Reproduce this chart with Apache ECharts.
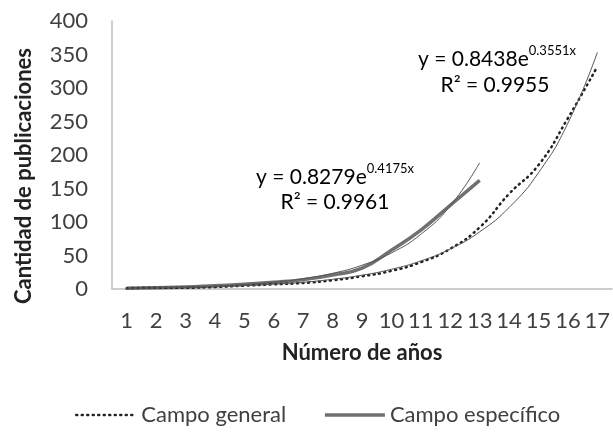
<!DOCTYPE html>
<html><head><meta charset="utf-8">
<script src="https://cdn.jsdelivr.net/npm/echarts@6/dist/echarts.min.js"></script>
<style>html,body{margin:0;padding:0;background:#fff}#c{width:613px;height:435px}</style>
</head><body><div id="c"></div>
<script>
var years = ['1','2','3','4','5','6','7','8','9','10','11','12','13','14','15','16','17'];
var yTicks = [0,50,100,150,200,250,300,350,400];
var campoGeneral = [1,2,2,3,5,7,9,13,19,27,40,60,92,142,185,255,332];
var campoEspecifico = [1,2,3,5,7,10,14,21,31,58,88,125,162];
var trendGeneral = [1.2,1.7,2.5,3.5,5.0,7.1,10.1,14.5,20.6,29.4,41.9,59.8,85.3,121.7,173.6,247.6,353];
var trendEspecifico = [1.3,1.9,2.9,4.4,6.7,10.1,15.4,23.4,35.5,53.8,81.7,124.1,188.4];
var eqGeneral = ['y = 0.8438e','0.3551x','R² = 0.9955'];
var eqEspecifico = ['y = 0.8279e','0.4175x','R² = 0.9961'];

var FONT = 'Lato, "Open Sans", sans-serif';
var chart = echarts.init(document.getElementById('c'));
function eqRich(){
  return {
    a:{fontSize:21,fontFamily:FONT,color:'#404040',lineHeight:26,verticalAlign:'bottom'},
    s:{fontSize:13,fontFamily:FONT,color:'#404040',lineHeight:26,verticalAlign:'top'},
    b:{fontSize:21,fontFamily:FONT,color:'#404040',lineHeight:26}
  };
}
chart.setOption({
  animation:false,
  textStyle:{fontFamily:FONT},
  grid:{left:112,right:-2,top:21,bottom:146,containLabel:false},
  legend:{
    data:[
      {name:'Campo general',lineStyle:{color:'#222',width:2.5,type:[1,4.5],cap:'round'}},
      {name:'Campo específico',lineStyle:{color:'#707070',width:3.5,type:'solid'}}
    ],
    top:399,left:70,itemWidth:60,itemHeight:10,itemGap:37,
    itemStyle:{opacity:0},
    textStyle:{fontSize:22,color:'#404040',fontFamily:FONT}
  },
  xAxis:{
    type:'category',data:years,boundaryGap:true,
    name:'Número de años',nameLocation:'middle',nameGap:53,
    nameTextStyle:{fontSize:22,fontWeight:'bold',color:'#222',fontFamily:FONT},
    axisLine:{lineStyle:{color:'#bfbfbf',width:1.5}},
    axisTick:{show:false},
    axisLabel:{fontSize:22,color:'#404040',margin:21,interval:0,fontFamily:FONT}
  },
  yAxis:{
    type:'value',min:yTicks[0],max:yTicks[yTicks.length-1],interval:50,
    name:'Cantidad de publicaciones',nameLocation:'middle',nameGap:77,
    nameTextStyle:{fontSize:22,fontWeight:'bold',color:'#222',fontFamily:FONT,padding:[0,42,0,0]},
    axisLine:{show:true,lineStyle:{color:'#bfbfbf',width:1.5}},
    axisTick:{show:false},splitLine:{show:false},
    axisLabel:{fontSize:22,color:'#404040',margin:24,fontFamily:FONT}
  },
  series:[
    {name:'Campo general',type:'line',data:campoGeneral,smooth:true,symbol:'none',
     lineStyle:{color:'#222',width:2.5,type:[1,4.5],cap:'round'},itemStyle:{color:'#222'},z:3},
    {name:'Campo específico',type:'line',data:campoEspecifico,smooth:true,symbol:'none',
     lineStyle:{color:'#707070',width:3.5},itemStyle:{color:'#707070'},z:2},
    {name:'trendGeneral',type:'line',data:trendGeneral,smooth:true,symbol:'none',
     lineStyle:{color:'#555',width:1},z:4},
    {name:'trendEspecifico',type:'line',data:trendEspecifico,smooth:true,symbol:'none',
     lineStyle:{color:'#555',width:1},z:4}
  ],
  graphic:[
    {type:'text',x:497,y:57,style:{text:'{a|'+eqGeneral[0]+'}{s|'+eqGeneral[1]+'}',rich:eqRich(),align:'center',verticalAlign:'middle'}},
    {type:'text',x:495,y:85,style:{text:'{b|'+eqGeneral[2]+'}',rich:eqRich(),align:'center',verticalAlign:'middle'}},
    {type:'text',x:335,y:175,style:{text:'{a|'+eqEspecifico[0]+'}{s|'+eqEspecifico[1]+'}',rich:eqRich(),align:'center',verticalAlign:'middle'}},
    {type:'text',x:335,y:202,style:{text:'{b|'+eqEspecifico[2]+'}',rich:eqRich(),align:'center',verticalAlign:'middle'}}
  ]
});
</script></body></html>
